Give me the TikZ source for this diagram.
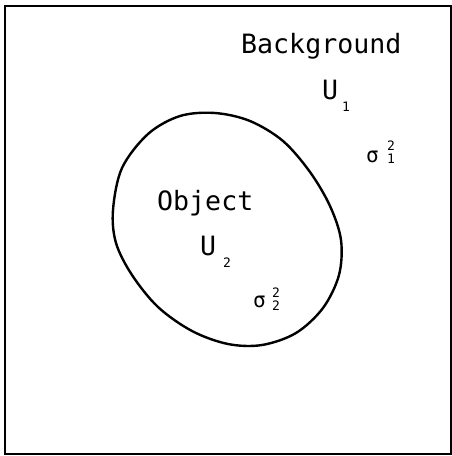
\documentclass[tikz,border=0pt]{standalone}
\usepackage{fontspec}
\newfontfamily\labelfont{DejaVu Sans Mono}
\begin{document}
\begin{tikzpicture}[x=1pt,y=-1pt,
  txt/.style={inner sep=0pt, anchor=base west, font=\labelfont\fontsize{26.6}{30}\selectfont},
  greek/.style={inner sep=0pt, anchor=base west, font=\labelfont\fontsize{21}{24}\selectfont},
  idx/.style={inner sep=0pt, anchor=base west, font=\labelfont\fontsize{13}{15}\selectfont},
  frame/.style={draw=black, line width=2pt},
  blob/.style={draw=black, line width=2.4pt}]
\useasboundingbox (0,0) rectangle (452,456);
\draw[frame] (5,6) rectangle (451,454);
\draw[blob] plot[smooth cycle, tension=0.55] coordinates {
 (113,210) (122,168) (148,134) (180,116) (215,113) (250,121) (283,141) (310,172)
 (330,206) (341,240) (339,275) (323,308) (296,333) (262,345) (228,344) (192,331)
 (158,307) (132,275) (116,243)};
\node[txt] (bg) at (241,53) {Background};
\node[txt] (obj) at (157,210) {Object};
\node[txt] (u1) at (322,99) {U};
\node[idx] (u1s) at (342,111) {1};
\node[txt] (u2) at (200,255) {U};
\node[idx] (u2s) at (223,267) {2};
\node[greek] (s1) at (366,162) {σ};
\node[idx] (s1p) at (387,150) {2};
\node[idx] (s1b) at (387,163) {1};
\node[greek] (s2) at (253,307) {σ};
\node[idx] (s2p) at (272,297) {2};
\node[idx] (s2b) at (272,310) {2};
\end{tikzpicture}
\end{document}
